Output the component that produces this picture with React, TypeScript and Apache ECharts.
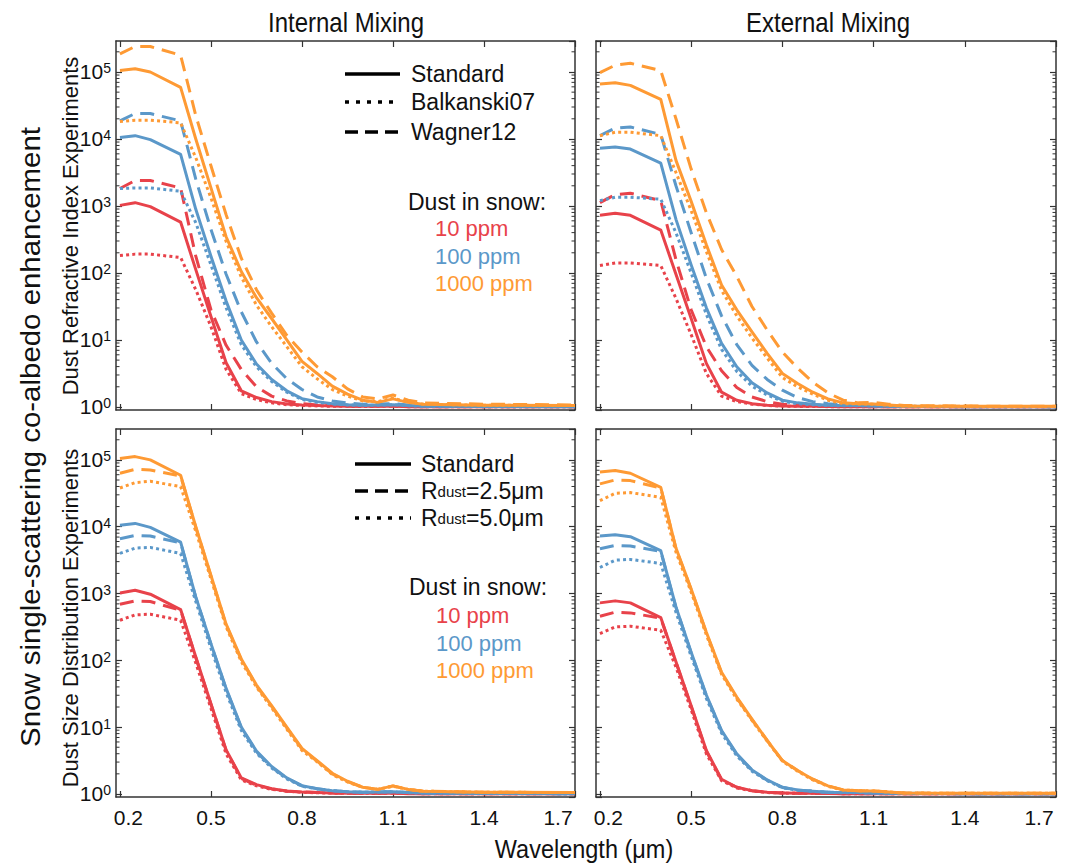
import React, { useEffect, useRef } from "react";
import * as echarts from "echarts";

// ---------------- DATA ----------------
const WAVELENGTH = [0.2, 0.25, 0.3, 0.4, 0.45, 0.5, 0.55, 0.6, 0.65, 0.7, 0.75, 0.8, 0.85, 0.9, 0.95, 1.0, 1.05, 1.1, 1.15, 1.2, 1.4, 1.7];

// Standard (Internal mixing)
const IM_STD_10 = [1020, 1120, 977, 575, 112, 22.4, 4.57, 1.74, 1.38, 1.2, 1.11, 1.07, 1.05, 1.035, 1.02, 1.02, 1.02, 1.03, 1.01, 1.01, 1.007, 1.005];
const IM_STD_100 = [10500, 11200, 9770, 5890, 891, 178, 38.0, 10.0, 4.37, 2.57, 1.74, 1.33, 1.2, 1.12, 1.08, 1.06, 1.07, 1.08, 1.05, 1.03, 1.014, 1.01];
const IM_STD_1000 = [105000, 112000, 100000, 58900, 10000, 1860, 347, 105, 42.7, 20.9, 10.0, 4.79, 3.16, 2.04, 1.55, 1.26, 1.17, 1.32, 1.17, 1.1, 1.06, 1.05];
// Balkanski07 (Internal)
const IM_BAL_10 = [182, 191, 191, 170, 56.2, 15.8, 3.63, 1.58, 1.29, 1.15, 1.08, 1.05, 1.035, 1.02, 1.02, 1.014, 1.02, 1.02, 1.01, 1.007, 1.005, 1.005];
const IM_BAL_100 = [1820, 1860, 1860, 1660, 562, 132, 30.2, 8.51, 3.98, 2.4, 1.66, 1.29, 1.17, 1.11, 1.07, 1.05, 1.06, 1.08, 1.04, 1.02, 1.01, 1.01];
const IM_BAL_1000 = [18200, 19100, 19100, 17400, 5250, 1320, 295, 87.1, 33.1, 15.8, 7.94, 3.98, 2.63, 1.82, 1.45, 1.23, 1.2, 1.35, 1.17, 1.1, 1.06, 1.05];
// Wagner12 (Internal)
const IM_WAG_10 = [1820, 2400, 2400, 1860, 178, 28.2, 8.32, 3.63, 2.0, 1.45, 1.23, 1.12, 1.07, 1.05, 1.035, 1.02, 1.03, 1.035, 1.02, 1.01, 1.007, 1.005];
const IM_WAG_100 = [18600, 24000, 24000, 18600, 2510, 447, 95.5, 26.3, 9.33, 4.47, 2.63, 1.82, 1.41, 1.23, 1.14, 1.1, 1.11, 1.12, 1.07, 1.035, 1.02, 1.01];
const IM_WAG_1000 = [186000, 240000, 240000, 178000, 22400, 3980, 741, 166, 56.2, 25.1, 11.7, 6.61, 3.98, 2.82, 1.86, 1.41, 1.32, 1.51, 1.26, 1.15, 1.1, 1.07];

// Standard (External mixing)
const EM_STD_10 = [724, 776, 724, 437, 95.5, 20.9, 4.47, 1.66, 1.26, 1.12, 1.06, 1.035, 1.02, 1.02, 1.014, 1.01, 1.01, 1.01, 1.007, 1.007, 1.005, 1.005];
const EM_STD_100 = [7240, 7590, 7080, 4370, 631, 132, 30.2, 8.91, 3.98, 2.29, 1.62, 1.26, 1.15, 1.1, 1.06, 1.05, 1.05, 1.035, 1.02, 1.02, 1.01, 1.01];
const EM_STD_1000 = [66100, 69200, 63100, 38900, 4790, 1170, 263, 66.1, 28.2, 13.2, 6.31, 3.16, 2.24, 1.66, 1.32, 1.15, 1.12, 1.11, 1.07, 1.035, 1.02, 1.02];
// Balkanski07 (External)
const EM_BAL_10 = [129, 141, 141, 129, 41.7, 12.0, 3.16, 1.45, 1.2, 1.1, 1.05, 1.03, 1.02, 1.014, 1.01, 1.01, 1.01, 1.007, 1.007, 1.005, 1.005, 1.005];
const EM_BAL_100 = [1200, 1350, 1350, 1260, 398, 100, 24.0, 7.24, 3.39, 2.04, 1.51, 1.22, 1.12, 1.08, 1.05, 1.04, 1.04, 1.03, 1.02, 1.014, 1.01, 1.007];
const EM_BAL_1000 = [11200, 12600, 12600, 11200, 3160, 851, 209, 55.0, 22.9, 10.7, 5.37, 2.75, 2.0, 1.55, 1.26, 1.12, 1.11, 1.1, 1.06, 1.03, 1.02, 1.014];
// Wagner12 (External)
const EM_WAG_10 = [1120, 1480, 1550, 1200, 158, 28.2, 7.94, 3.47, 1.95, 1.41, 1.2, 1.1, 1.06, 1.035, 1.02, 1.02, 1.014, 1.01, 1.01, 1.007, 1.005, 1.005];
const EM_WAG_100 = [11200, 14500, 15100, 11700, 2000, 398, 83.2, 22.9, 8.51, 4.17, 2.57, 1.78, 1.38, 1.2, 1.12, 1.07, 1.06, 1.05, 1.035, 1.02, 1.014, 1.01];
const EM_WAG_1000 = [97700, 126000, 135000, 105000, 20000, 3550, 794, 224, 89.1, 31.6, 14.1, 6.61, 3.8, 2.34, 1.62, 1.26, 1.15, 1.17, 1.1, 1.05, 1.03, 1.02];

// Size distribution (Internal): Rdust = 2.5 um / 5.0 um
const IM_R25_10 = [692, 776, 759, 562, 110, 21.9, 4.47, 1.7, 1.35, 1.19, 1.1, 1.07, 1.05, 1.035, 1.02, 1.02, 1.02, 1.03, 1.014, 1.01, 1.007, 1.005];
const IM_R50_10 = [398, 479, 490, 398, 91.2, 19.1, 3.98, 1.62, 1.32, 1.17, 1.1, 1.06, 1.04, 1.03, 1.02, 1.02, 1.02, 1.025, 1.014, 1.01, 1.007, 1.005];
const IM_R25_100 = [6610, 7410, 7240, 5750, 871, 174, 37.2, 9.77, 4.27, 2.51, 1.72, 1.32, 1.2, 1.12, 1.08, 1.06, 1.07, 1.08, 1.05, 1.03, 1.014, 1.01];
const IM_R50_100 = [3980, 4790, 4900, 3980, 759, 151, 33.1, 8.91, 4.07, 2.45, 1.68, 1.3, 1.19, 1.12, 1.08, 1.06, 1.07, 1.08, 1.04, 1.03, 1.014, 1.01];
const IM_R25_1000 = [63100, 72400, 70800, 57500, 9770, 1820, 339, 102, 41.7, 20.4, 9.77, 4.68, 3.09, 2.0, 1.53, 1.26, 1.17, 1.32, 1.17, 1.1, 1.06, 1.05];
const IM_R50_1000 = [38000, 45700, 47900, 39800, 8510, 1660, 316, 95.5, 39.8, 19.5, 9.33, 4.47, 3.02, 1.95, 1.51, 1.26, 1.17, 1.3, 1.17, 1.1, 1.06, 1.05];

// Size distribution (External)
const EM_R25_10 = [457, 525, 513, 427, 93.3, 20.4, 4.37, 1.62, 1.26, 1.12, 1.06, 1.035, 1.02, 1.02, 1.014, 1.01, 1.01, 1.01, 1.007, 1.007, 1.005, 1.005];
const EM_R50_10 = [251, 316, 324, 282, 79.4, 18.2, 3.98, 1.58, 1.23, 1.11, 1.05, 1.03, 1.02, 1.02, 1.014, 1.01, 1.01, 1.01, 1.007, 1.007, 1.005, 1.005];
const EM_R25_100 = [4680, 5250, 5130, 4270, 617, 129, 29.5, 8.71, 3.89, 2.26, 1.6, 1.25, 1.14, 1.1, 1.06, 1.05, 1.05, 1.035, 1.02, 1.02, 1.01, 1.01];
const EM_R50_100 = [2450, 3160, 3240, 2820, 525, 115, 26.9, 8.13, 3.72, 2.19, 1.58, 1.24, 1.14, 1.09, 1.06, 1.04, 1.04, 1.03, 1.02, 1.02, 1.01, 1.01];
const EM_R25_1000 = [43700, 50100, 49000, 38000, 4680, 1150, 257, 64.6, 27.5, 12.9, 6.31, 3.16, 2.24, 1.66, 1.32, 1.15, 1.12, 1.11, 1.07, 1.035, 1.02, 1.02];
const EM_R50_1000 = [24500, 31600, 32400, 27500, 4170, 1050, 240, 61.7, 26.3, 12.6, 6.17, 3.09, 2.19, 1.62, 1.3, 1.14, 1.12, 1.11, 1.07, 1.035, 1.02, 1.02];

const X_TICKS = [0.2, 0.5, 0.8, 1.1, 1.4, 1.7];
const COLUMN_TITLES = ["Internal Mixing", "External Mixing"];
const ROW_TITLES = ["Dust Refractive Index Experiments", "Dust Size Distribution Experiments"];
const Y_TITLE = "Snow single-scattering co-albedo enhancement";
const X_TITLE = "Wavelength (\u03bcm)";
const LEGEND_TOP = ["Standard", "Balkanski07", "Wagner12"];
const CONC_LABELS = ["10 ppm", "100 ppm", "1000 ppm"];

// ---------------- STYLE ----------------
const RED = "#E8424A";
const BLUE = "#5B98C9";
const ORANGE = "#FE9A34";
const AX = "#333333";
const FONT = "'Liberation Sans', Arial, Helvetica, sans-serif";
const X_MIN = 0.187;
const X_MAX = 1.7;
const Y_MIN = 0.9;
const Y_MAX = 2.9e5;
const DASH = [14, 8];
const DOT = [3, 3.2];

const GRIDS = [
  { left: 116, top: 41, width: 459, height: 369 },
  { left: 596, top: 41, width: 460, height: 369 },
  { left: 116, top: 429, width: 459, height: 368 },
  { left: 596, top: 429, width: 460, height: 368 },
];

type S = [number[], string, string];
const PANELS: S[][] = [
  [
    [IM_STD_10, RED, "solid"], [IM_BAL_10, RED, "dot"], [IM_WAG_10, RED, "dash"],
    [IM_STD_100, BLUE, "solid"], [IM_BAL_100, BLUE, "dot"], [IM_WAG_100, BLUE, "dash"],
    [IM_STD_1000, ORANGE, "solid"], [IM_BAL_1000, ORANGE, "dot"], [IM_WAG_1000, ORANGE, "dash"],
  ],
  [
    [EM_STD_10, RED, "solid"], [EM_BAL_10, RED, "dot"], [EM_WAG_10, RED, "dash"],
    [EM_STD_100, BLUE, "solid"], [EM_BAL_100, BLUE, "dot"], [EM_WAG_100, BLUE, "dash"],
    [EM_STD_1000, ORANGE, "solid"], [EM_BAL_1000, ORANGE, "dot"], [EM_WAG_1000, ORANGE, "dash"],
  ],
  [
    [IM_STD_10, RED, "solid"], [IM_R25_10, RED, "dash"], [IM_R50_10, RED, "dot"],
    [IM_STD_100, BLUE, "solid"], [IM_R25_100, BLUE, "dash"], [IM_R50_100, BLUE, "dot"],
    [IM_STD_1000, ORANGE, "solid"], [IM_R25_1000, ORANGE, "dash"], [IM_R50_1000, ORANGE, "dot"],
  ],
  [
    [EM_STD_10, RED, "solid"], [EM_R25_10, RED, "dash"], [EM_R50_10, RED, "dot"],
    [EM_STD_100, BLUE, "solid"], [EM_R25_100, BLUE, "dash"], [EM_R50_100, BLUE, "dot"],
    [EM_STD_1000, ORANGE, "solid"], [EM_R25_1000, ORANGE, "dash"], [EM_R50_1000, ORANGE, "dot"],
  ],
];

// minor tick positions for the log axes (axis decoration)
const MINOR_VALUES: number[] = [];
for (let k = 0; k <= 5; k++) {
  for (let m = 2; m <= 9; m++) {
    const v = m * Math.pow(10, k);
    if (v < Y_MAX) MINOR_VALUES.push(v);
  }
}

function buildOption() {
  const xAxis: any[] = [];
  const yAxis: any[] = [];
  const series: any[] = [];
  const lineStyleAxis = { color: AX, width: 1.5 };
  const lab = { fontSize: 21, fontFamily: FONT, color: "#111" };

  GRIDS.forEach((_, g) => {
    xAxis.push({
      type: "value", gridIndex: g, min: X_MIN, max: X_MAX, position: "bottom",
      axisLine: { show: true, onZero: false, lineStyle: lineStyleAxis },
      axisTick: { show: true, inside: true, length: 6, customValues: X_TICKS, lineStyle: { color: AX, width: 1.2 } },
      axisLabel: {
        show: g >= 2, customValues: X_TICKS, margin: 10, hideOverlap: false,
        formatter: (v: number) => {
          const t = v.toFixed(1);
          if (Math.abs(v - 0.2) < 1e-6) return `{l|${t}}`;
          if (Math.abs(v - 1.7) < 1e-6) return `{r|${t}}`;
          return `{m|${t}}`;
        },
        rich: {
          l: { ...lab, padding: [0, 0, 0, 17] },
          r: { ...lab, padding: [0, 34, 0, 0] },
          m: { ...lab },
        },
      },
      splitLine: { show: false },
    });
  });
  GRIDS.forEach((_, g) => {
    xAxis.push({
      type: "value", gridIndex: g, min: X_MIN, max: X_MAX, position: "top",
      axisLine: { show: true, onZero: false, lineStyle: lineStyleAxis },
      axisTick: { show: true, inside: true, length: 6, customValues: X_TICKS, lineStyle: { color: AX, width: 1.2 } },
      axisLabel: { show: false },
      splitLine: { show: false },
    });
  });
  const yLabelFormatter = (v: number) => {
    const l = Math.log10(v);
    const n = Math.round(l);
    if (Math.abs(l - n) > 0.01) return "";
    return `{b|10}{s|${n}}`;
  };
  GRIDS.forEach((_, g) => {
    yAxis.push({
      type: "log", logBase: 10, gridIndex: g, min: Y_MIN, max: Y_MAX, position: "left",
      axisLine: { show: true, onZero: false, lineStyle: lineStyleAxis },
      axisTick: { show: true, inside: true, length: 6, lineStyle: { color: AX, width: 1.2 } },
      axisLabel: {
        show: g % 2 === 0, showMinLabel: false, showMaxLabel: false, margin: 5,
        formatter: yLabelFormatter,
        rich: {
          b: { fontSize: 21, fontFamily: FONT, color: "#111", verticalAlign: "bottom" },
          s: { fontSize: 14, fontFamily: FONT, color: "#111", verticalAlign: "top" },
        },
      },
      splitLine: { show: false },
    });
  });
  GRIDS.forEach((_, g) => {
    yAxis.push({
      type: "log", logBase: 10, gridIndex: g, min: Y_MIN, max: Y_MAX, position: "right",
      axisLine: { show: true, onZero: false, lineStyle: lineStyleAxis },
      axisTick: { show: true, inside: true, length: 6, lineStyle: { color: AX, width: 1.2 } },
      axisLabel: { show: false },
      splitLine: { show: false },
    });
  });

  PANELS.forEach((panel, g) => {
    panel.forEach(([vals, color, kind]) => {
      series.push({
        type: "line", xAxisIndex: g, yAxisIndex: g, showSymbol: false, symbol: "none",
        data: WAVELENGTH.map((x, i) => [x, vals[i]]),
        lineStyle: { color, width: 3, type: kind === "solid" ? "solid" : kind === "dash" ? DASH : DOT, cap: "butt", join: "round" },
        z: 3,
      });
    });
    // minor ticks on log axes (left & right)
    series.push({
      type: "custom", xAxisIndex: g, yAxisIndex: g, silent: true, z: 5, clip: false,
      data: MINOR_VALUES.map((v) => [X_MIN, v]),
      renderItem: (params: any, api: any) => {
        const v = api.value(1);
        const pL = api.coord([X_MIN, v]);
        const pR = api.coord([X_MAX, v]);
        const st = { stroke: AX, lineWidth: 1 };
        return {
          type: "group",
          children: [
            { type: "line", shape: { x1: pL[0], y1: pL[1], x2: pL[0] + 3.5, y2: pL[1] }, style: st },
            { type: "line", shape: { x1: pR[0], y1: pR[1], x2: pR[0] - 3.5, y2: pR[1] }, style: st },
          ],
        };
      },
    });
  });

  const txt = (x: number, y: number, text: string, size: number, color = "#111", align = "left", extra: any = {}) => ({
    type: "text", x, y, silent: true,
    style: { text, fontSize: size, fontFamily: FONT, fill: color, align, verticalAlign: "middle", textAlign: align, textVerticalAlign: "middle" },
    ...extra,
  });
  const lg = (x1: number, x2: number, y: number, dash: any) => ({
    type: "line", silent: true,
    shape: { x1, y1: y, x2, y2: y },
    style: { stroke: "#000", lineWidth: 3.5, lineDash: dash, lineCap: "butt" },
  });
  const rdust = (y: number, val: string) => ({
    type: "text", x: 421, y, silent: true,
    style: {
      text: `{n|R}{d|dust}{n|=${val}\u03bcm}`, align: "left", verticalAlign: "middle", textAlign: "left", textVerticalAlign: "middle",
      rich: {
        n: { fontSize: 23, fontFamily: FONT, fill: "#111", color: "#111" },
        d: { fontSize: 15, fontFamily: FONT, fill: "#111", color: "#111" },
      },
    },
  });

  const graphic: any[] = [
    txt(346, 22, COLUMN_TITLES[0], 24, "#111", "center", { scaleY: 1.15 }),
    txt(828, 22, COLUMN_TITLES[1], 24, "#111", "center", { scaleY: 1.15 }),
    txt(584, 849, X_TITLE, 23.5, "#111", "center", { scaleY: 1.1 }),
    txt(30, 437, Y_TITLE, 27, "#111", "center", { rotation: Math.PI / 2, scaleX: 1.09 }),
    txt(70, 226, ROW_TITLES[0], 22, "#111", "center", { rotation: Math.PI / 2 }),
    txt(70, 618, ROW_TITLES[1], 22, "#111", "center", { rotation: Math.PI / 2 }),
    // legend top
    lg(345, 400, 74, null), lg(345, 400, 102, [4, 7]), lg(345, 400, 132, [13, 7]),
    txt(411, 74, LEGEND_TOP[0], 23), txt(411, 102, LEGEND_TOP[1], 23), txt(411, 132, LEGEND_TOP[2], 23),
    txt(408, 202, "Dust in snow:", 23),
    txt(435, 228, CONC_LABELS[0], 22, RED), txt(435, 256, CONC_LABELS[1], 22, BLUE), txt(435, 283, CONC_LABELS[2], 22, ORANGE),
    // legend bottom
    lg(355, 411, 464, null), lg(355, 411, 491, [13, 7]), lg(355, 411, 518, [4, 7]),
    txt(421, 464, "Standard", 23),
    rdust(491, "2.5"),
    rdust(518, "5.0"),
    txt(409, 587, "Dust in snow:", 23),
    txt(436, 615, CONC_LABELS[0], 22, RED), txt(436, 643, CONC_LABELS[1], 22, BLUE), txt(436, 670, CONC_LABELS[2], 22, ORANGE),
  ];

  return {
    animation: false,
    backgroundColor: "#ffffff",
    grid: GRIDS.map((g) => ({ ...g, containLabel: false })),
    xAxis,
    yAxis,
    series,
    graphic,
  };
}

export default function App() {
  const ref = useRef<HTMLDivElement>(null);
  useEffect(() => {
    document.body.style.margin = "0";
    if (!ref.current) return;
    const chart = echarts.init(ref.current, undefined, { renderer: "svg" });
    chart.setOption(buildOption() as any);
    return () => chart.dispose();
  }, []);
  return <div ref={ref} style={{ width: 1065, height: 865, position: "absolute", left: 0, top: 0 }} />;
}
